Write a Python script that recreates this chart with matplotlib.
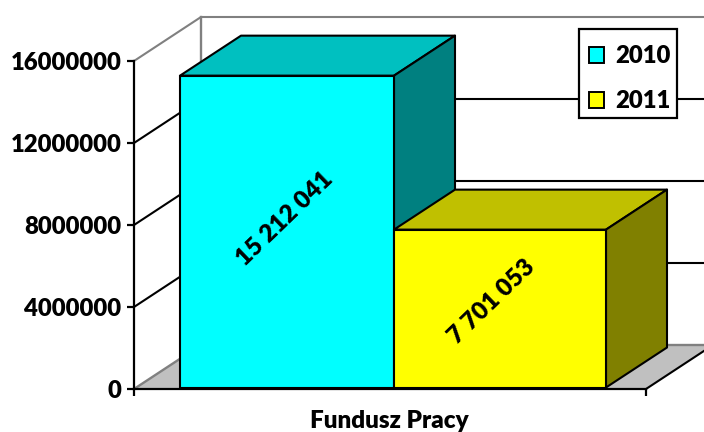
import matplotlib
matplotlib.use("Agg")
import matplotlib.pyplot as plt
from matplotlib.patches import Patch, Polygon, Rectangle

plt.rcParams['font.family'] = ['Lato', 'DejaVu Sans']
plt.rcParams['font.weight'] = 'heavy'

category = "Fundusz Pracy"
series_names = ["2010", "2011"]
series_values = [15212041, 7701053]
value_labels = ["15 212 041", "7 701 053"]
y_ticks = [0, 4000000, 8000000, 12000000, 16000000]

W, H = 704, 432
L, R, T, B = 134, 646, 61, 389
DX_WALL, DY_WALL = 67, 44   # depth of chart box in pixels
DX_BAR, DY_BAR = 61, 40     # depth of bars in pixels
BAR_L, BAR_M, BAR_R = 180, 394, 606
FS = 17.2

fig = plt.figure(figsize=(W / 100, H / 100), dpi=100, facecolor='white')
ax = fig.add_axes([L / W, 1 - B / H, (R - L) / W, (B - T) / H])
ax.set_xlim(L, R)
ax.set_ylim(0, 16000000)
ax.patch.set_alpha(0)
for s in ['top', 'right']:
    ax.spines[s].set_visible(False)
for s in ['left', 'bottom']:
    ax.spines[s].set_linewidth(1.6)
    ax.spines[s].set_zorder(8)

per_px = 16000000 / (B - T)
dyw = DY_WALL * per_px
dyb = DY_BAR * per_px
lift = 1.5 * per_px
EXT = 900  # walls run past the picture edge

def poly(points, face, edge='black', lw=1.5, z=3):
    ax.add_patch(Polygon(points, closed=True, facecolor=face, edgecolor=edge,
                         linewidth=lw, clip_on=False, zorder=z, joinstyle='round'))

# floor
poly([(L, 0), (R, 0), (R + DX_WALL, dyw), (L + DX_WALL, dyw)], '#c0c0c0', edge='none', z=1)
ax.plot([L + DX_WALL, EXT], [dyw, dyw], color='#808080', lw=1.7, clip_on=False, zorder=1.5)
ax.plot([L, L + DX_WALL], [0, dyw], color='#808080', lw=1.7, clip_on=False, zorder=1.5)
ax.plot([R, R + DX_WALL], [0, dyw], color='black', lw=1.5, clip_on=False, zorder=1.6)

# walls and grid
ax.plot([L + DX_WALL, L + DX_WALL], [dyw, 16000000 + dyw], color='#808080', lw=1.7,
        clip_on=False, zorder=1.5)
for v in y_ticks[1:]:
    c = '#808080' if v == y_ticks[-1] else 'black'
    ax.plot([L, L + DX_WALL, EXT], [v, v + dyw, v + dyw], color=c, lw=1.5,
            clip_on=False, zorder=1.5)

# bars
lefts = [BAR_L, BAR_M]
rights = [BAR_M, BAR_R]
fronts = ['#00ffff', '#ffff00']
tops = ['#00c0c0', '#c0c000']
sides = ['#008080', '#808000']
label_dx = [-2, -8]
label_dy = [0.68e6, 0.41e6]
for i, v in enumerate(series_values):
    a, b = lefts[i], rights[i]
    z = 3 + i
    h = v + lift
    poly([(a, h), (b, h), (b + DX_BAR, h + dyb), (a + DX_BAR, h + dyb)], tops[i], z=z)
    poly([(b, lift), (b + DX_BAR, lift + dyb), (b + DX_BAR, h + dyb), (b, h)], sides[i], z=z)
    ax.bar((a + b) / 2, v, bottom=lift, width=b - a, color=fronts[i], edgecolor='black',
           linewidth=1.5, zorder=z + 0.5, clip_on=False)
    ax.text((a + b) / 2 + label_dx[i], v / 2 + label_dy[i], value_labels[i], rotation=44,
            ha='center', va='center', fontsize=FS + 0.3, fontweight='heavy', color='black',
            zorder=7, rotation_mode='anchor')

ax.set_yticks(y_ticks)
ax.set_yticklabels([str(t) for t in y_ticks], fontsize=FS, fontweight='heavy')
ax.set_xticks([L, R])
ax.set_xticklabels([])
ax.tick_params(axis='both', direction='out', length=5, width=1.6, color='black')
ax.tick_params(axis='y', pad=4)
ax.text((L + R) / 2 - 1, -1.55e6, category, ha='center', va='center', fontsize=17.5, fontweight='heavy')

# legend box and entries
def py(pixel_y):
    return (B - pixel_y) * per_px

ax.add_patch(Rectangle((579, py(118)), 98, py(29) - py(118), facecolor='white', edgecolor='black',
                       linewidth=1.6, clip_on=False, zorder=9))
leg = ax.legend(handles=[Patch(facecolor=f, edgecolor='black', linewidth=1.4, label=n)
                         for f, n in zip(fronts, series_names)],
                loc='upper left', bbox_to_anchor=((589 - L) / (R - L), (B - 45.5) / (B - T)),
                frameon=False, prop={'size': FS, 'weight': 'heavy'},
                handlelength=0.62, handleheight=0.62,
                handletextpad=0.46, labelspacing=0.96, borderpad=0, borderaxespad=0)
leg.set_zorder(10)

fig.savefig('out.png', dpi=100, facecolor='white')
